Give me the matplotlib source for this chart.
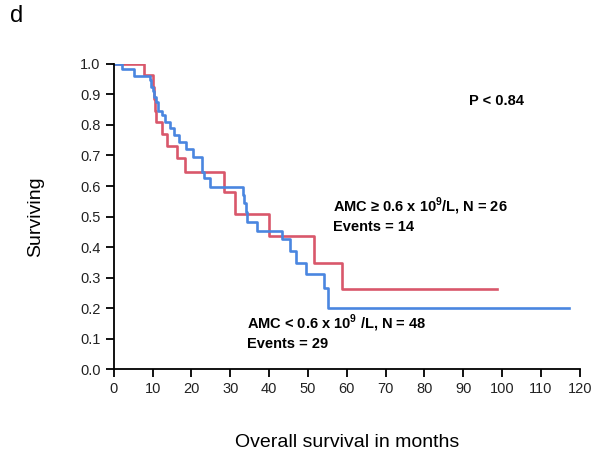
import numpy as np
import matplotlib.pyplot as plt

plt.rcParams['font.family'] = ['Liberation Sans', 'DejaVu Sans']
plt.rcParams['mathtext.fontset'] = 'custom'
plt.rcParams['mathtext.bf'] = 'Liberation Sans:bold'
plt.rcParams['mathtext.rm'] = 'Liberation Sans:bold'

# Kaplan-Meier steps (months, surviving fraction)
red_time = [0, 7.8, 10.0, 10.3, 10.7, 11.0, 12.3, 13.7, 16.2, 18.3, 28.4, 31.2, 40.0, 51.5, 58.7, 98.7]
red_surv = [1.0, 0.962, 0.923, 0.885, 0.846, 0.808, 0.769, 0.731, 0.692, 0.647, 0.580, 0.508, 0.436, 0.348, 0.263, 0.263]

blue_time = [0, 2.2, 5.3, 9.2, 9.6, 10.0, 10.4, 10.9, 11.4, 12.3, 13.1, 14.4, 15.6, 16.9, 18.6,
             20.3, 22.8, 23.2, 24.7, 33.2, 33.6, 34.0, 34.4, 36.9, 43.2, 45.3, 47.0, 49.5, 54.2, 55.1, 117.3]
blue_surv = [1.0, 0.983, 0.96, 0.946, 0.925, 0.91, 0.893, 0.875, 0.846, 0.833, 0.81, 0.789, 0.767, 0.745, 0.72,
             0.694, 0.646, 0.625, 0.596, 0.57, 0.545, 0.515, 0.483, 0.452, 0.425, 0.388, 0.349, 0.311, 0.265, 0.201, 0.201]

x_ticks = np.arange(0, 121, 10)
y_ticks = np.round(np.arange(0, 1.01, 0.1), 1)

red = '#d9576b'
blue = '#4a86e0'

fig = plt.figure(figsize=(6.02, 4.53), dpi=100)
ax = fig.add_axes([0.189, 0.185, 0.774, 0.674])

ax.step(red_time, red_surv, where='post', color=red, lw=1.9)
ax.step(blue_time, blue_surv, where='post', color=blue, lw=1.9)

ax.set_xlim(0, 120)
ax.set_ylim(0, 1.0)
ax.set_xticks(x_ticks)
ax.set_yticks(y_ticks)
ax.set_yticklabels(['%.1f' % v for v in y_ticks])
ax.tick_params(direction='out', length=6, width=1.3, labelsize=10.5, colors='black', labelcolor='#222222')
for s in ['top', 'right']:
    ax.spines[s].set_visible(False)
for s in ['left', 'bottom']:
    ax.spines[s].set_linewidth(1.3)

ax.set_xlabel('Overall survival in months', fontsize=14, labelpad=27)
ax.set_ylabel('Surviving', fontsize=14, labelpad=26)

ax.text(91.5, 0.88, 'P < 0.84', fontsize=10.5, fontweight='bold', va='center')
ax.text(56.5, 0.534, 'AMC \u2265 0.6 x 10$^{\\mathbf{9}}$/L, N = 26', fontsize=10.5, fontweight='bold', va='center')
ax.text(56.5, 0.467, 'Events = 14', fontsize=10.5, fontweight='bold', va='center')
ax.text(34.2, 0.15, r'AMC < 0.6 x 10$^{\mathbf{9}}$ /L, N = 48', fontsize=10.5, fontweight='bold', va='center')
ax.text(34.2, 0.082, 'Events = 29', fontsize=10.5, fontweight='bold', va='center')

fig.text(0.017, 0.965, 'd', fontsize=17, va='center')

fig.savefig('out.png', dpi=100)
